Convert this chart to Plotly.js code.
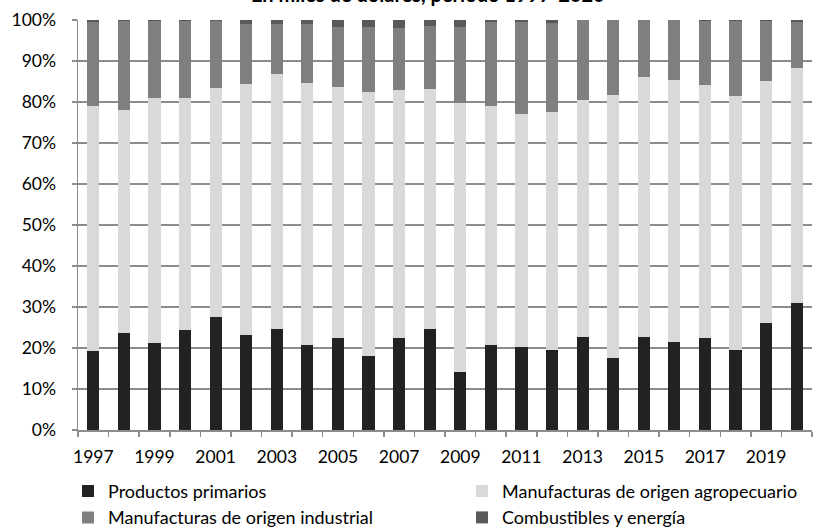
<!DOCTYPE html>
<html>
<head>
<meta charset="utf-8">
<script src="https://cdn.plot.ly/plotly-3.0.1.min.js"></script>
<style>
  html, body { margin: 0; padding: 0; background: #fff; }
  #chart { width: 818px; height: 529px; }
</style>
</head>
<body>
<div id="chart"></div>
<script>
const years = [1997,1998,1999,2000,2001,2002,2003,2004,2005,2006,2007,2008,2009,2010,2011,2012,2013,2014,2015,2016,2017,2018,2019,2020];
const primarios     = [19.3,23.6,21.1,24.5,27.6,23.2,24.7,20.7,22.4,18.0,22.5,24.7,14.1,20.7,20.3,19.5,22.8,17.6,22.8,21.5,22.4,19.5,26.0,31.0];
const agropecuario  = [59.7,54.5,59.9,56.4,55.8,61.2,62.2,64.0,61.2,64.4,60.4,58.5,65.7,58.3,56.7,58.1,57.7,64.2,63.4,63.9,61.7,62.0,59.2,57.2];
const industrial    = [20.4,21.7,18.8,18.8,16.4,14.6,12.1,14.3,14.8,15.8,15.1,15.3,18.6,20.6,22.5,21.6,19.4,18.1,13.7,14.5,15.7,18.3,14.6,11.3];
const combustibles  = [0.6,0.2,0.2,0.3,0.2,1.0,1.0,1.0,1.6,1.8,2.0,1.5,1.6,0.4,0.5,0.8,0.1,0.1,0.1,0.1,0.2,0.2,0.2,0.5];
const seriesNames = ["Productos primarios","Manufacturas de origen agropecuario","Manufacturas de origen industrial","Combustibles y energía"];
const tickYears = [1997,1999,2001,2003,2005,2007,2009,2011,2013,2015,2017,2019];
const yTicks = [0,10,20,30,40,50,60,70,80,90,100];
const titleText = "En miles de dólares, período 1997-2020";

const colors = ["#222222","#d9d9d9","#7f7f7f","#595959"];
const values = [primarios, agropecuario, industrial, combustibles];

const traces = values.map((v, i) => ({
  type: "bar",
  name: seriesNames[i],
  x: years,
  y: v,
  marker: { color: colors[i], line: { width: 0 } },
  hoverinfo: "x+y+name"
}));

const boundaries = [];
for (let i = 0; i <= years.length; i++) boundaries.push(years[0] - 0.5 + i);

const font = "Lato, 'Open Sans', sans-serif";

const layout = {
  width: 818, height: 529,
  margin: { l: 78, r: 6, t: 20, b: 99, autoexpand: false },
  paper_bgcolor: "#ffffff",
  plot_bgcolor: "#ffffff",
  barmode: "stack",
  bargap: 0.6,
  font: { family: font, size: 17.5, color: "#000000" },
  annotations: [{
    text: "<b>" + titleText + "</b>",
    xref: "paper", yref: "paper",
    x: 0.477, xanchor: "center",
    y: 1.03, yanchor: "bottom",
    showarrow: false,
    font: { family: font, size: 20, color: "#000000" }
  }],
  xaxis: {
    type: "linear",
    range: [years[0] - 0.5, years[years.length - 1] + 0.5],
    tickvals: tickYears,
    ticktext: tickYears.map(String),
    ticks: "",
    ticklabelstandoff: 10,
    showgrid: false,
    zeroline: false,
    showline: true,
    linecolor: "#8c8c8c",
    linewidth: 1.5,
    tickfont: { family: font, size: 17.5, color: "#000000" },
    minor: { tickvals: boundaries, ticks: "outside", ticklen: 5, tickcolor: "#8c8c8c", tickwidth: 1.5, showgrid: false },
    fixedrange: true
  },
  yaxis: {
    range: [0, 100],
    tickvals: yTicks,
    ticktext: yTicks.map(t => t + "%"),
    ticks: "outside",
    ticklen: 5,
    tickcolor: "#8c8c8c",
    tickwidth: 1.5,
    ticklabelstandoff: 12,
    showgrid: true,
    gridcolor: "#8c8c8c",
    gridwidth: 1.5,
    zeroline: false,
    showline: true,
    linecolor: "#8c8c8c",
    linewidth: 1.5,
    tickfont: { family: font, size: 17.5, color: "#000000" },
    fixedrange: true
  },
  legend: {
    orientation: "h",
    xref: "paper", yref: "paper",
    x: -0.0136, xanchor: "left",
    y: -0.1044, yanchor: "top",
    traceorder: "normal",
    entrywidth: 349,
    entrywidthmode: "pixels",
    font: { family: font, size: 18, color: "#000000" },
    itemclick: false, itemdoubleclick: false
  },
  showlegend: true
};

Plotly.newPlot("chart", traces, layout, { displayModeBar: false, staticPlot: true });
</script>
</body>
</html>
